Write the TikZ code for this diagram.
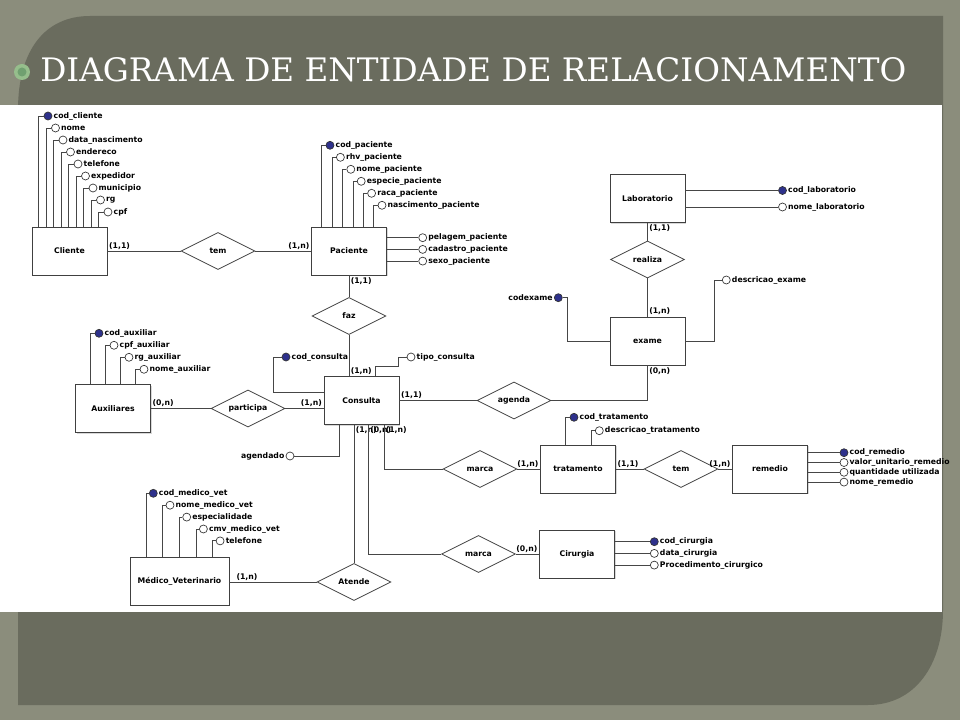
\documentclass[tikz,border=0pt]{standalone}
\usepackage{fontspec}
\usepackage{graphicx}
\setmainfont{DejaVu Sans}
\newfontfamily\titlefont{DejaVu Serif}
\usetikzlibrary{shapes.geometric, calc, shadows}

\definecolor{outerbg}{RGB}{139,141,124}
\definecolor{panelbg}{RGB}{106,108,94}
\definecolor{keyblue}{RGB}{46,49,140}
\definecolor{linegray}{RGB}{70,70,70}
\definecolor{bulletgreen}{RGB}{112,160,112}
\definecolor{bulletring}{RGB}{150,190,140}

\newcommand\erfont{\fontsize{5.8}{7}\selectfont\bfseries}

\tikzset{
	entity/.style={draw=black!75, line width=0.6pt, fill=white, minimum width=56.25pt,
		minimum height=36pt, font=\erfont,
		drop shadow={shadow xshift=1pt, shadow yshift=-1pt, opacity=0.3}},
	relation/.style={diamond, draw=black!75, line width=0.6pt, fill=white, aspect=2,
		minimum width=55.5pt, minimum height=27.75pt, inner sep=0pt, font=\erfont},
	attr/.style={circle, draw=black!80, line width=0.5pt, fill=white, minimum size=6pt,
		inner sep=0pt, label distance=0.5pt},
	key/.style={attr, fill=keyblue},
	card/.style={font=\erfont, inner sep=1pt},
	link/.style={draw=linegray, line width=0.7pt}
}

\begin{document}
\begin{tikzpicture}
[x=0.75pt, y=-0.75pt, every label/.style={font=\erfont, inner sep=0.8pt}]
\useasboundingbox (0,0) rectangle (960,720);
\fill[outerbg] (0,0) rectangle (960,720);
\fill[panelbg] (90,16) -- (943,16) -- (943,610) .. controls (943,665) and (915,705) .. (868,705)
 -- (18,705) -- (18,110) .. controls (18,50) and (45,16) .. (90,16) -- cycle;
\fill[white] (0,105) rectangle (942,612);
\node[circle, fill=bulletring, minimum size=12pt, inner sep=0pt] (bullet) at (22,72) {};
\fill[bulletgreen] (bullet) circle (4.5);
\node[anchor=south west, inner sep=0pt, text=white] (title) at (40,82)
 {\resizebox{649.5pt}{18pt}{\titlefont DIAGRAMA DE ENTIDADE DE RELACIONAMENTO}};

\node[entity] (cliente) at (69.5,251) {Cliente};
\node[relation] (temcli) at (218,251) {tem};
\node[entity] (paciente) at (349,251) {Paciente};
\node[relation] (faz) at (349,316) {faz};
\node[entity] (consulta) at (361.5,400.5) {Consulta};
\node[relation] (participa) at (248,408.5) {participa};
\node[entity] (auxiliares) at (113,408.5) {Auxiliares};
\node[relation] (agenda) at (514,400.5) {agenda};
\node[entity] (laboratorio) at (647.5,198.5) {Laboratorio};
\node[relation] (realiza) at (647.5,259.5) {realiza};
\node[entity] (exame) at (647.5,341) {exame};
\node[relation] (marcatrat) at (480,469) {marca};
\node[entity] (tratamento) at (578,469) {tratamento};
\node[relation] (temrem) at (681,469) {tem};
\node[entity] (remedio) at (770,469) {remedio};
\node[relation] (marcacir) at (478.5,554) {marca};
\node[entity] (cirurgia) at (577,554) {Cirurgia};
\node[relation] (atende) at (354,582) {Atende};
\node[entity, minimum width=74.25pt] (medico) at (179.5,581) {Médico\_Veterinario};

\draw[link] (cliente.east) -- node[card, pos=0, above right] (c1) {(1,1)} (temcli.west);
\draw[link] (temcli.east) -- node[card, pos=1, above left] (c2) {(1,n)} (paciente.west);
\draw[link] (paciente.south) -- node[card, pos=0, below right] (c3) {(1,1)} (faz.north);
\draw[link] (faz.south) -- node[card, pos=1, above right] (c4) {(1,n)} (faz.south |- consulta.north);
\draw[link] (laboratorio.south) -- node[card, pos=0, below right] (c5) {(1,1)} (realiza.north);
\draw[link] (realiza.south) -- node[card, pos=1, above right] (c6) {(1,n)} (exame.north);
\draw[link] (auxiliares.east) -- node[card, pos=0, above right] (c7) {(0,n)} (participa.west);
\draw[link] (participa.east) -- node[card, pos=1, above left] (c8) {(1,n)} (participa.east -| consulta.west);
\draw[link] (consulta.east) -- node[card, pos=0, above right] (c9) {(1,1)} (agenda.west);
\draw[link] (agenda.east) -| node[card, pos=1, below right] (c10) {(0,n)} (exame.south);
\draw[link] (atende.north |- consulta.south) -- node[card, pos=0, below right] (c11) {(1,n)} (atende.north);
\draw[link] ($(consulta.south)+(7,0)$) |- node[card, pos=0, below right] (c12) {(0,n)} (marcacir.west);
\draw[link] ($(consulta.south)+(22.5,0)$) |- node[card, pos=0, below right] (c13) {(1,n)} (marcatrat.west);
\draw[link] (marcatrat.east) -- node[card, pos=1, above left] (c14) {(1,n)} (tratamento.west);
\draw[link] (tratamento.east) -- node[card, pos=0, above right] (c15) {(1,1)} (temrem.west);
\draw[link] (temrem.east) -- node[card, pos=1, above left] (c16) {(1,n)} (remedio.west);
\draw[link] (marcacir.east) -- node[card, pos=1, above left] (c17) {(0,n)} (cirurgia.west);
\draw[link] (atende.west -| medico.east) -- node[card, pos=0, above right, xshift=4pt] (c18) {(1,n)} (atende.west);

\foreach \s/\t [count=\i from 0] in {key/cod\_cliente, attr/nome, attr/data\_nascimento,
 attr/endereco, attr/telefone, attr/expedidor, attr/municipio, attr/rg, attr/cpf}{
	\node[\s, label=right:\t] (acli\i) at ({48+7.5*\i}, {116+12*\i}) {};
	\draw[link] ($(cliente.north west)+({7.3+7.5*\i},0)$) |- (acli\i.west);
}
\foreach \s/\t [count=\i from 0] in {key/cod\_paciente, attr/rhv\_paciente, attr/nome\_paciente,
 attr/especie\_paciente, attr/raca\_paciente, attr/nascimento\_paciente}{
	\node[\s, label=right:\t] (apac\i) at ({330+10.4*\i}, {145.3+12*\i}) {};
	\draw[link] ($(paciente.north west)+({10.8+10.4*\i},0)$) |- (apac\i.west);
}
\foreach \t [count=\i] in {pelagem\_paciente, cadastro\_paciente, sexo\_paciente}{
	\node[attr, label=right:\t] (bpac\i) at (422.7, {226+11.7*\i}) {};
	\draw[link] (bpac\i.west -| paciente.east) -- (bpac\i.west);
}
\foreach \s/\t [count=\i from 0] in {key/cod\_auxiliar, attr/cpf\_auxiliar, attr/rg\_auxiliar,
 attr/nome\_auxiliar}{
	\node[\s, label=right:\t] (aaux\i) at ({99+15*\i}, {333.3+12*\i}) {};
	\draw[link] ($(auxiliares.north west)+({15.2+15*\i},0)$) |- (aaux\i.west);
}
\foreach \s/\t [count=\i from 0] in {key/cod\_medico\_vet, attr/nome\_medico\_vet,
 attr/especialidade, attr/cmv\_medico\_vet, attr/telefone}{
	\node[\s, label=right:\t] (amed\i) at ({153.3+16.7*\i}, {493.3+11.9*\i}) {};
	\draw[link] ($(medico.north west)+({16.7+16.6*\i},0)$) |- (amed\i.west);
}
\foreach \s/\t/\y [count=\i from 0] in {key/cod\_laboratorio/190.5, attr/nome\_laboratorio/207}{
	\node[\s, label=right:\t] (alab\i) at (782.5, \y) {};
	\draw[link] (alab\i.west -| laboratorio.east) -- (alab\i.west);
}
\foreach \s/\t [count=\i from 0] in {key/cod\_remedio, attr/valor\_unitario\_remedio,
 attr/quantidade utilizada, attr/nome\_remedio}{
	\node[\s, label=right:\t] (arem\i) at (844, {452.7+9.8*\i}) {};
	\draw[link] (arem\i.west -| remedio.east) -- (arem\i.west);
}
\foreach \s/\t [count=\i from 0] in {key/cod\_cirurgia, attr/data\_cirurgia,
 attr/Procedimento\_cirurgico}{
	\node[\s, label=right:\t] (acir\i) at (654.3, {541.7+11.7*\i}) {};
	\draw[link] (acir\i.west -| cirurgia.east) -- (acir\i.west);
}
\foreach \s/\t/\x/\y [count=\i from 0] in {key/cod\_tratamento/574/417.3,
 attr/descricao\_tratamento/599.3/430.7}{
	\node[\s, label=right:\t] (atra\i) at (\x, \y) {};
	\draw[link] ($(tratamento.north west)+({25.7+25.6*\i},0)$) |- (atra\i.west);
}

\node[key, label=right:cod\_consulta] (kcon) at (286,357) {};
\draw[link] ($(consulta.west)+(0,-8)$) -| ($(kcon.west)+(-8.3,0)$) -- (kcon.west);
\node[attr, label=right:tipo\_consulta] (tcon) at (411,357) {};
\draw[link] ($(consulta.north)+(14.2,0)$) -- ++(0,-10) -| ($(tcon.west)+(-8,0)$) -- (tcon.west);
\node[attr, label=left:agendado] (agen) at (290,456) {};
\draw[link] ($(consulta.south)+(-22.2,0)$) |- (agen.east);
\node[key, label=left:codexame] (cexa) at (558.3,297.7) {};
\draw[link] (exame.west) -| ($(cexa.east)+(5,0)$) -- (cexa.east);
\node[attr, label=right:descricao\_exame] (dexa) at (726.3,280) {};
\draw[link] (exame.east) -| ($(dexa.west)+(-7.6,0)$) -- (dexa.west);
\end{tikzpicture}
\end{document}
